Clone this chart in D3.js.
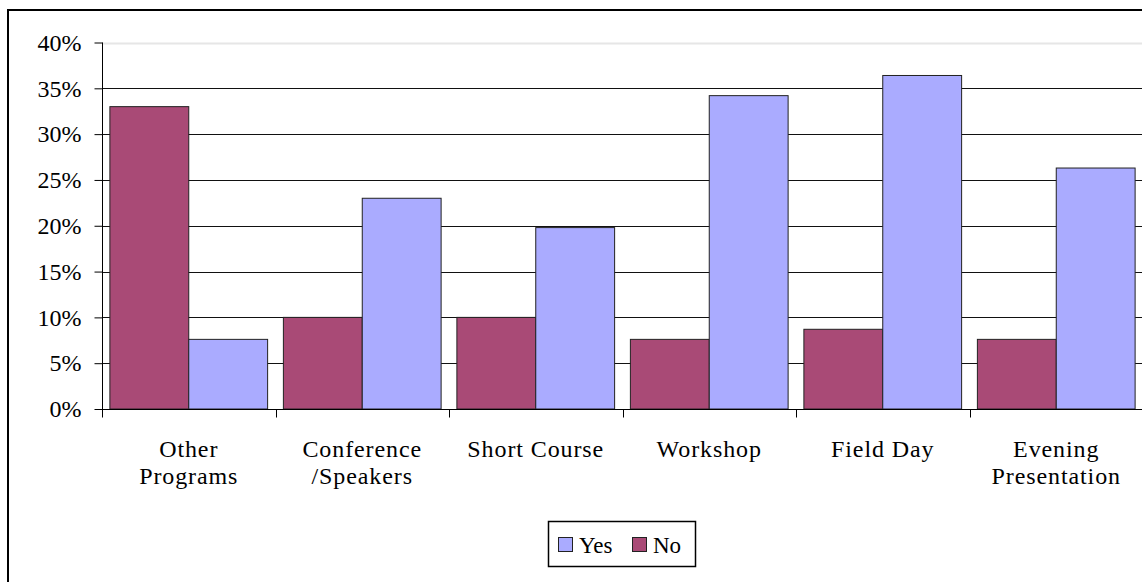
<!DOCTYPE html>
<html>
<head>
<meta charset="utf-8">
<script src="https://cdn.jsdelivr.net/npm/d3@7"></script>
<style>
  body { margin: 0; background: #fff; }
  svg { display: block; }
  svg text { font-family: 'Liberation Serif', 'Times New Roman', serif; }
</style>
</head>
<body>
<div id="chart"></div>
<script>
const categories = ['Other Programs', 'Conference /Speakers', 'Short Course', 'Workshop', 'Field Day', 'Evening Presentation'];
const categoryLines = [['Other', 'Programs'], ['Conference', '/Speakers'], ['Short Course'], ['Workshop'], ['Field Day'], ['Evening', 'Presentation']];
const seriesNames = ['No', 'Yes'];
const yesValues = [0.076, 0.23, 0.198, 0.342, 0.364, 0.263];
const noValues = [0.33, 0.10, 0.10, 0.076, 0.087, 0.076];
const yTicks = [0, 0.05, 0.1, 0.15, 0.2, 0.25, 0.3, 0.35, 0.4];
const legendItems = ['Yes', 'No'];

const size = { width: 1142, height: 582 };
const margin = { top: 42.5, left: 102 };

const colors = { Yes: '#aaabff', No: '#a94a76' };

const svg = d3.select('#chart')
  .append('svg')
  .attr('width', size.width)
  .attr('height', size.height);

// outer chart frame (runs off the right and bottom edge)
svg.append('rect')
  .attr('x', 8)
  .attr('y', 10)
  .attr('width', 1200)
  .attr('height', 700)
  .attr('fill', 'none')
  .attr('stroke', '#000')
  .attr('stroke-width', 2);

const x0 = d3.scaleBand()
  .domain(categories)
  .range([margin.left, margin.left + 6 * 173.5])
  .paddingInner(0)
  .paddingOuter(0);

const x1 = d3.scaleBand()
  .domain(seriesNames)
  .range([0, x0.bandwidth()])
  .paddingInner(0)
  .paddingOuter(0.1);

const y = d3.scaleLinear()
  .domain([0, 0.4])
  .range([409, margin.top]);

// gridlines
svg.append('g')
  .selectAll('line')
  .data(yTicks.filter((d) => d > 0))
  .join('line')
  .attr('x1', margin.left)
  .attr('x2', size.width)
  .attr('y1', (d) => Math.round(y(d)) + 0.5)
  .attr('y2', (d) => Math.round(y(d)) + 0.5)
  .attr('stroke', (d) => (d === 0.4 ? '#e6e6e6' : '#111'))
  .attr('stroke-width', (d) => (d === 0.4 ? 2 : 1.2));

// bars
const rows = categories.map((c, i) => ({ cat: c, No: noValues[i], Yes: yesValues[i] }));

svg.append('g')
  .selectAll('g')
  .data(rows)
  .join('g')
  .attr('transform', (d) => `translate(${x0(d.cat)},0)`)
  .selectAll('rect')
  .data((d) => seriesNames.map((s) => ({ key: s, val: d[s] })))
  .join('rect')
  .attr('x', (d) => x1(d.key))
  .attr('y', (d) => y(d.val))
  .attr('width', x1.bandwidth())
  .attr('height', (d) => y(0) - y(d.val))
  .attr('fill', (d) => colors[d.key])
  .attr('stroke', '#222')
  .attr('stroke-width', 1);

// y axis
const yAxis = svg.append('g')
  .attr('transform', `translate(${margin.left + 0.5},0)`)
  .call(d3.axisLeft(y).tickValues(yTicks).tickFormat(d3.format('.0%')).tickSize(8).tickPadding(13));

yAxis.attr('font-family', null);
yAxis.select('.domain').attr('stroke', '#000').attr('d', `M0,${y(0.4)}V${y(0)}`);
yAxis.selectAll('.tick line').attr('stroke', '#000');
yAxis.selectAll('.tick text')
  .style('font-size', '24px')
  .attr('fill', '#000')
  .attr('dy', '0.32em');

// x axis
const xAxis = svg.append('g')
  .attr('transform', `translate(0,${Math.round(y(0)) + 0.5})`);

xAxis.append('line')
  .attr('x1', margin.left)
  .attr('x2', size.width)
  .attr('stroke', '#000');

xAxis.selectAll('.xtick')
  .data(categories)
  .join('line')
  .attr('class', 'xtick')
  .attr('x1', (d) => Math.round(x0(d)) + 0.5)
  .attr('x2', (d) => Math.round(x0(d)) + 0.5)
  .attr('y1', 0)
  .attr('y2', 8)
  .attr('stroke', '#000');

xAxis.selectAll('.xlabel')
  .data(categories)
  .join('text')
  .attr('class', 'xlabel')
  .attr('text-anchor', 'middle')
  .style('font-size', '24px')
  .style('letter-spacing', '0.9px')
  .attr('fill', '#000')
  .each(function (d, i) {
    d3.select(this)
      .selectAll('tspan')
      .data(categoryLines[i])
      .join('tspan')
      .attr('x', x0(d) + x0.bandwidth() / 2)
      .attr('y', (t, j) => 47 + j * 27.5)
      .text((t) => t);
  });

// legend
const legend = svg.append('g');

legend.append('rect')
  .attr('x', 548.5)
  .attr('y', 521.5)
  .attr('width', 147)
  .attr('height', 45)
  .attr('fill', '#fff')
  .attr('stroke', '#000')
  .attr('stroke-width', 1.5);

const legendX = d3.scalePoint().domain(legendItems).range([558, 632]);

const item = legend.selectAll('.item')
  .data(legendItems)
  .join('g')
  .attr('class', 'item')
  .attr('transform', (d) => `translate(${legendX(d)},537)`);

item.append('rect')
  .attr('x', 0.5)
  .attr('y', 0.5)
  .attr('width', 14)
  .attr('height', 14)
  .attr('fill', (d) => colors[d])
  .attr('stroke', '#222');

item.append('text')
  .attr('x', 21)
  .attr('y', 15.5)
  .style('font-size', '23px')
  .attr('fill', '#000')
  .text((d) => d);
</script>
</body>
</html>
